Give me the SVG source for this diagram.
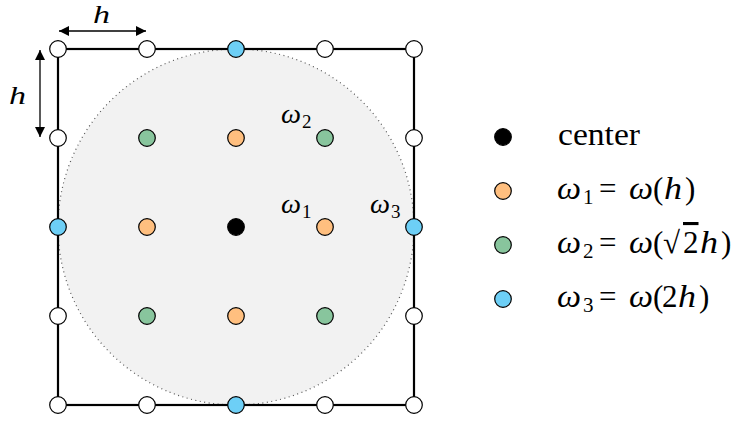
<svg xmlns="http://www.w3.org/2000/svg" width="741" height="423" viewBox="0 0 741 423">
<defs>
<style>
.pt{stroke:#000;stroke-width:1.2}
.w{fill:#fff}
.o{fill:#ffbf7f}
.g{fill:#88c59d}
.b{fill:#6dcff6}
.c{fill:#000}
text{font-family:"Liberation Serif","DejaVu Serif",serif;fill:#000}
.lbl{font-size:27px}
.lbl .sub{font-size:19px}
.leg{font-size:31px}
.leg .sub{font-size:21px}
.i{font-style:italic}
.ar{stroke:#000;stroke-width:1.3;fill:none}
</style>
<marker id="ah" viewBox="0 0 10 10" refX="10" refY="5" markerWidth="10" markerHeight="10" markerUnits="userSpaceOnUse" orient="auto-start-reverse">
<path d="M0,0 L10,5 L0,10 Z" fill="#000"/>
</marker>
</defs>
<rect width="741" height="423" fill="#fff"/>
<circle cx="236" cy="227" r="178" fill="#f2f2f2" stroke="#555" stroke-width="1.2" stroke-dasharray="1 3.5"/>
<g id="connectors">
<rect x="58" y="49" width="356" height="356" fill="none" stroke="#000" stroke-width="2.2"/>
<line class="ar" x1="59" y1="31" x2="146" y2="31" marker-start="url(#ah)" marker-end="url(#ah)"/>
<line class="ar" x1="40" y1="50" x2="40" y2="137" marker-start="url(#ah)" marker-end="url(#ah)"/>
</g>
<g id="grid-points">
<g id="row0">
<circle class="pt w" cx="58" cy="49" r="8.3"/>
<circle class="pt w" cx="147" cy="49" r="8.3"/>
<circle class="pt b" cx="236" cy="49" r="8.3"/>
<circle class="pt w" cx="325" cy="49" r="8.3"/>
<circle class="pt w" cx="414" cy="49" r="8.3"/>
</g>
<g id="row1">
<circle class="pt w" cx="58" cy="138" r="8.3"/>
<circle class="pt g" cx="147" cy="138" r="8.3"/>
<circle class="pt o" cx="236" cy="138" r="8.3"/>
<circle class="pt g" cx="325" cy="138" r="8.3"/>
<circle class="pt w" cx="414" cy="138" r="8.3"/>
</g>
<g id="row2">
<circle class="pt b" cx="58" cy="227" r="8.3"/>
<circle class="pt o" cx="147" cy="227" r="8.3"/>
<circle id="center" class="pt c" cx="236" cy="227" r="8.3"/>
<circle class="pt o" cx="325" cy="227" r="8.3"/>
<circle class="pt b" cx="414" cy="227" r="8.3"/>
</g>
<g id="row3">
<circle class="pt w" cx="58" cy="316" r="8.3"/>
<circle class="pt g" cx="147" cy="316" r="8.3"/>
<circle class="pt o" cx="236" cy="316" r="8.3"/>
<circle class="pt g" cx="325" cy="316" r="8.3"/>
<circle class="pt w" cx="414" cy="316" r="8.3"/>
</g>
<g id="row4">
<circle class="pt w" cx="58" cy="405" r="8.3"/>
<circle class="pt w" cx="147" cy="405" r="8.3"/>
<circle class="pt b" cx="236" cy="405" r="8.3"/>
<circle class="pt w" cx="325" cy="405" r="8.3"/>
<circle class="pt w" cx="414" cy="405" r="8.3"/>
</g>
</g>
<g id="labels" class="lbl">
<text class="i" x="93" y="23" style="font-size:25px" textLength="17" lengthAdjust="spacingAndGlyphs">h</text>
<text class="i" x="9" y="104" style="font-size:26px" textLength="17" lengthAdjust="spacingAndGlyphs">h</text>
<text x="281" y="123"><tspan class="i" textLength="20" lengthAdjust="spacingAndGlyphs">ω</tspan><tspan class="sub" x="302" y="128">2</tspan></text>
<text x="281" y="213"><tspan class="i" textLength="20" lengthAdjust="spacingAndGlyphs">ω</tspan><tspan class="sub" x="302" y="218">1</tspan></text>
<text x="370" y="213"><tspan class="i" textLength="20" lengthAdjust="spacingAndGlyphs">ω</tspan><tspan class="sub" x="391" y="218">3</tspan></text>
</g>
<g id="legend" class="leg">
<g id="leg-center">
<circle class="pt c" cx="503" cy="137" r="8.3"/>
<text x="558" y="145" textLength="82" lengthAdjust="spacingAndGlyphs">center</text>
</g>
<g id="leg-w1">
<circle class="pt o" cx="503" cy="191" r="8.3"/>
<text y="199"><tspan class="i" x="557" textLength="24" lengthAdjust="spacingAndGlyphs">ω</tspan><tspan class="sub" x="583" y="204">1</tspan><tspan x="599" y="199">=</tspan><tspan class="i" x="629" textLength="24" lengthAdjust="spacingAndGlyphs">ω</tspan><tspan x="653">(</tspan><tspan class="i" x="664" textLength="18" lengthAdjust="spacingAndGlyphs">h</tspan><tspan x="685">)</tspan></text>
</g>
<g id="leg-w2">
<circle class="pt g" cx="503" cy="245" r="8.3"/>
<text y="253"><tspan class="i" x="557" textLength="24" lengthAdjust="spacingAndGlyphs">ω</tspan><tspan class="sub" x="583" y="258">2</tspan><tspan x="599" y="253">=</tspan><tspan class="i" x="629" textLength="24" lengthAdjust="spacingAndGlyphs">ω</tspan><tspan x="653">(</tspan><tspan x="663">√</tspan><tspan x="683" text-decoration="overline">2</tspan><tspan class="i" x="700" textLength="18" lengthAdjust="spacingAndGlyphs">h</tspan><tspan x="721">)</tspan></text>
</g>
<g id="leg-w3">
<circle class="pt b" cx="503" cy="299" r="8.3"/>
<text y="307"><tspan class="i" x="557" textLength="24" lengthAdjust="spacingAndGlyphs">ω</tspan><tspan class="sub" x="583" y="312">3</tspan><tspan x="599" y="307">=</tspan><tspan class="i" x="629" textLength="24" lengthAdjust="spacingAndGlyphs">ω</tspan><tspan x="653">(</tspan><tspan x="662">2</tspan><tspan class="i" x="678" textLength="18" lengthAdjust="spacingAndGlyphs">h</tspan><tspan x="699">)</tspan></text>
</g>
</g>
</svg>
